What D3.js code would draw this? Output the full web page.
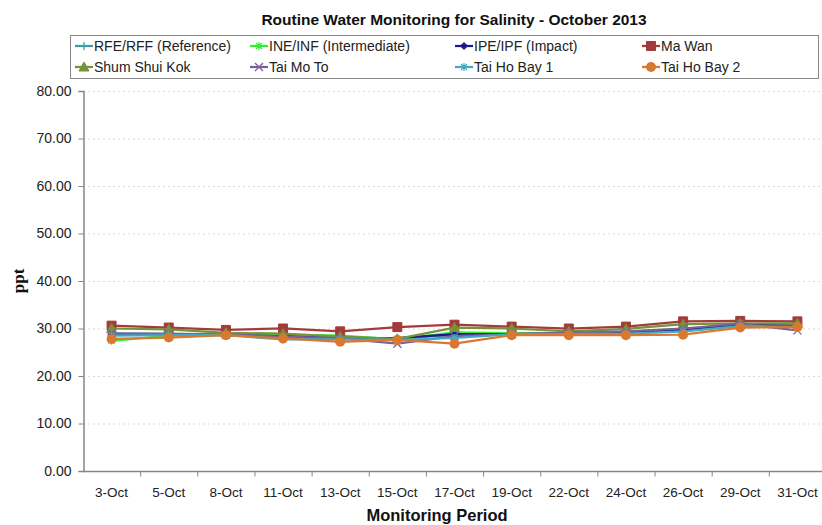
<!DOCTYPE html>
<html>
<head>
<meta charset="utf-8">
<script src="https://d3js.org/d3.v7.min.js"></script>
<style>
  body { margin: 0; background: #fff; }
  svg { display: block; font-family: "Liberation Sans", Arial, sans-serif; }
</style>
</head>
<body>
<div id="chart"></div>
<script>
// 監測日期
const dates = ["3-Oct", "5-Oct", "8-Oct", "11-Oct", "13-Oct", "15-Oct", "17-Oct",
               "19-Oct", "22-Oct", "24-Oct", "26-Oct", "29-Oct", "31-Oct"];

// 各測站鹽度 (ppt)
const rfeValues = [29.0, 28.8, 28.7, 28.0, 28.1, 27.9, 28.6, 28.9, 28.9, 29.0, 29.5, 30.6, 30.4];
const ineValues = [27.4, 28.5, 29.0, 28.7, 28.5, 27.7, 29.2, 29.0, 28.9, 29.3, 29.9, 30.6, 30.5];
const ipeValues = [28.7, 28.7, 28.6, 28.4, 28.0, 28.0, 28.8, 28.8, 29.0, 29.2, 29.8, 30.8, 30.6];
const maWanValues = [30.6, 30.2, 29.7, 30.0, 29.4, 30.3, 30.8, 30.4, 30.0, 30.4, 31.5, 31.6, 31.5];
const shumShuiKokValues = [30.0, 29.8, 29.1, 28.9, 28.3, 27.8, 30.2, 30.0, 29.4, 29.9, 30.9, 31.1, 31.1];
const taiMoToValues = [28.9, 28.9, 28.7, 28.3, 27.9, 26.8, 28.4, 28.8, 29.1, 29.4, 30.0, 31.0, 29.6];
const taiHoBay1Values = [28.5, 28.6, 28.6, 27.7, 27.7, 27.6, 28.0, 28.8, 28.8, 28.9, 29.4, 30.5, 30.4];
const taiHoBay2Values = [27.8, 28.1, 28.6, 27.9, 27.2, 27.6, 26.8, 28.6, 28.6, 28.6, 28.7, 30.2, 30.3];

// Y 軸刻度
const yTicks = [0, 10, 20, 30, 40, 50, 60, 70, 80];

const series = [
    { name: "RFE/RFF (Reference)", values: rfeValues, color: "#3a9ea6", marker: "plus" },
    { name: "INE/INF (Intermediate)", values: ineValues, color: "#33ee33", marker: "star" },
    { name: "IPE/IPF (Impact)", values: ipeValues, color: "#1a1a8c", marker: "diamond" },
    { name: "Ma Wan", values: maWanValues, color: "#a33b3a", marker: "square" },
    { name: "Shum Shui Kok", values: shumShuiKokValues, color: "#78923a", marker: "triangle" },
    { name: "Tai Mo To", values: taiMoToValues, color: "#7b5f9c", marker: "cross" },
    { name: "Tai Ho Bay 1", values: taiHoBay1Values, color: "#45a8c2", marker: "star" },
    { name: "Tai Ho Bay 2", values: taiHoBay2Values, color: "#d9792f", marker: "circle" }
];

const W = 822, H = 525;
const plot = { left: 83, top: 91, right: 826, bottom: 471 };

const svg = d3.select("#chart").append("svg")
    .attr("width", W)
    .attr("height", H);

const x = d3.scaleBand()
    .domain(dates)
    .range([plot.left, plot.right]);

const y = d3.scaleLinear()
    .domain([0, 80])
    .range([plot.bottom, plot.top]);

// 格線（淡色虛線）
svg.append("g")
    .selectAll("line")
    .data(yTicks.filter(d => d > 0))
    .enter().append("line")
    .attr("x1", plot.left)
    .attr("x2", plot.right)
    .attr("y1", d => y(d) + 0.5)
    .attr("y2", d => y(d) + 0.5)
    .attr("stroke", "#d9d9d9")
    .attr("stroke-width", 1)
    .attr("stroke-dasharray", "2,3");

// Y 軸
const yAxis = svg.append("g")
    .attr("transform", `translate(${plot.left + 0.5},0)`)
    .call(d3.axisLeft(y).tickValues(yTicks).tickFormat(d3.format(".2f")).tickSize(5).tickPadding(7));
yAxis.select(".domain").attr("stroke", "#868686").attr("stroke-width", 1.5);
yAxis.selectAll(".tick line").attr("stroke", "#868686");
yAxis.selectAll("text")
    .attr("font-size", 14)
    .attr("fill", "#222")
    .attr("font-family", "Liberation Sans, Arial, sans-serif");

// X 軸（刻度在類別邊界）
const xAxis = svg.append("g")
    .attr("transform", `translate(0,${plot.bottom + 0.5})`);
xAxis.append("line")
    .attr("x1", plot.left)
    .attr("x2", plot.right)
    .attr("stroke", "#868686")
    .attr("stroke-width", 1.5);
xAxis.selectAll(".xtick")
    .data(dates.slice(1))
    .enter().append("line")
    .attr("x1", d => x(d) + 0.5)
    .attr("x2", d => x(d) + 0.5)
    .attr("y1", 0)
    .attr("y2", 5)
    .attr("stroke", "#868686");
xAxis.selectAll(".xlabel")
    .data(dates)
    .enter().append("text")
    .attr("x", d => x(d) + x.bandwidth() / 2)
    .attr("y", 25)
    .attr("text-anchor", "middle")
    .attr("font-size", 13.5)
    .attr("fill", "#222")
    .text(d => d);

// 標記符號
function markerPath(type) {
    switch (type) {
        case "square": return "M-4.5,-4.5H4.5V4.5H-4.5Z";
        case "diamond": return "M0,-3.5L3.5,0L0,3.5L-3.5,0Z";
        case "triangle": return "M0,-5L5,4H-5Z";
        case "plus": return "M-4,0H4M0,-4V4";
        case "cross": return "M-4,-4L4,4M-4,4L4,-4";
        case "star": return "M-4,0H4M0,-4V4M-3,-3L3,3M-3,3L3,-3";
        default: return null;
    }
}

function drawMarker(g, s, cx, cy) {
    if (s.marker === "circle") {
        g.append("circle")
            .attr("cx", cx).attr("cy", cy).attr("r", 5)
            .attr("fill", s.color);
    } else {
        const open = ["plus", "cross", "star"].includes(s.marker);
        g.append("path")
            .attr("transform", `translate(${cx},${cy})`)
            .attr("d", markerPath(s.marker))
            .attr("fill", open ? "none" : s.color)
            .attr("stroke", s.color)
            .attr("stroke-width", open ? 1.3 : 1);
    }
}

// 折線與標記
const line = d3.line()
    .x((d, i) => x(dates[i]) + x.bandwidth() / 2)
    .y(d => y(d));

series.forEach(s => {
    const g = svg.append("g");
    g.append("path")
        .attr("d", line(s.values))
        .attr("fill", "none")
        .attr("stroke", s.color)
        .attr("stroke-width", 2.25);
    s.values.forEach((v, i) => drawMarker(g, s, x(dates[i]) + x.bandwidth() / 2, y(v)));
});

// 標題
svg.append("text")
    .attr("x", 454)
    .attr("y", 25)
    .attr("text-anchor", "middle")
    .attr("font-size", 15.5)
    .attr("font-weight", "bold")
    .attr("fill", "#111")
    .text("Routine Water Monitoring for Salinity - October 2013");

// 軸標題
svg.append("text")
    .attr("x", 437)
    .attr("y", 521)
    .attr("text-anchor", "middle")
    .attr("font-size", 16.5)
    .attr("font-weight", "bold")
    .attr("fill", "#111")
    .text("Monitoring Period");

svg.append("text")
    .attr("transform", "translate(24,281) rotate(-90)")
    .attr("text-anchor", "middle")
    .attr("font-size", 17)
    .attr("font-weight", "bold")
    .attr("font-family", "Liberation Serif, Times New Roman, serif")
    .attr("fill", "#111")
    .text("ppt");

// 圖例
const legendBox = svg.append("g");
legendBox.append("rect")
    .attr("x", 70.5)
    .attr("y", 35.5)
    .attr("width", 748)
    .attr("height", 43)
    .attr("fill", "#fff")
    .attr("stroke", "#888")
    .attr("stroke-width", 1);

const colX = [75, 250, 455, 642];
const rowY = [46, 67];

series.forEach((s, i) => {
    const lx = colX[i % 4], ly = rowY[Math.floor(i / 4)];
    const g = legendBox.append("g");
    g.append("line")
        .attr("x1", lx).attr("x2", lx + 18)
        .attr("y1", ly).attr("y2", ly)
        .attr("stroke", s.color)
        .attr("stroke-width", 2.25);
    drawMarker(g, s, lx + 9, ly);
    g.append("text")
        .attr("x", lx + 19)
        .attr("y", ly + 5)
        .attr("font-size", 14)
        .attr("fill", "#222")
        .text(s.name);
});
</script>
</body>
</html>
